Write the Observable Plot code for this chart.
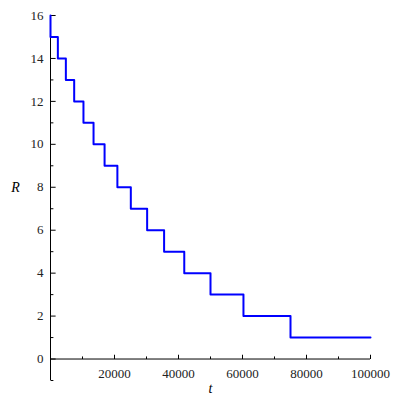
<!DOCTYPE html>
<html><head>
<script src="https://cdn.jsdelivr.net/npm/d3@7"></script>
<script src="https://cdn.jsdelivr.net/npm/@observablehq/plot@0.6"></script>
<style>body{margin:0;background:#fff}</style>
</head><body><div id="chart"></div>
<script>
// step edges
const tVals = [0, 0, 2300, 4800, 7400, 10300, 13450, 16900, 20900, 25100, 30200, 35500, 41800, 50000, 60300, 75000, 100000]
const rVals = [16, 15, 14, 13, 12, 11, 10, 9, 8, 7, 6, 5, 4, 3, 2, 1, 1]
const xMajor = [20000, 40000, 60000, 80000, 100000]
const xMinor = [10000, 30000, 50000, 70000, 90000]
const yMajor = [0, 2, 4, 6, 8, 10, 12, 14, 16]
const yMinor = [1, 3, 5, 7, 9, 11, 13, 15]

const data = tVals.map((t, i) => ({t, R: rVals[i]}))
const font = 'Liberation Serif'

let chart = Plot.plot({
  width: 400,
  height: 400,
  marginLeft: 50,
  marginRight: 30,
  marginTop: 15,
  marginBottom: 20,
  style: {fontFamily: font, fontSize: '13px', background: 'white'},
  x: {type: 'linear', domain: [0, 100000], axis: null},
  y: {type: 'linear', domain: [-1, 16], axis: null},
  marks: [
    Plot.ruleY([0], {stroke: 'black'}),
    Plot.ruleX([0], {y1: -1, y2: 16, stroke: 'black'}),
    Plot.link(xMajor, {x1: d => d, x2: d => d, y1: 0, y2: 0.2, stroke: 'black'}),
    Plot.link(xMinor, {x1: d => d, x2: d => d, y1: 0, y2: 0.12, stroke: 'black'}),
    Plot.link(yMajor, {y1: d => d, y2: d => d, x1: 0, x2: 1600, stroke: 'black'}),
    Plot.link(yMinor.concat([-1]), {y1: d => d, y2: d => d, x1: 0, x2: 900, stroke: 'black'}),
    Plot.text(xMajor, {x: d => d, y: 0, dy: 15, text: d => String(d), fill: '#222'}),
    Plot.text(yMajor, {x: 0, y: d => d, dx: -7, textAnchor: 'end', text: d => String(d), fill: '#222'}),
    Plot.line(data, {x: 't', y: 'R', curve: 'step-after', stroke: '#0000ff', strokeWidth: 2}),
    Plot.text(['t'], {x: 50000, y: -1, dy: 8, text: d => d, fontStyle: 'italic', fontSize: 14}),
    Plot.text(['R'], {x: 0, y: 8, dx: -35, text: d => d, fontStyle: 'italic', fontSize: 14})
  ]
})
d3.select('#chart').append(() => chart)
</script>
</body></html>
